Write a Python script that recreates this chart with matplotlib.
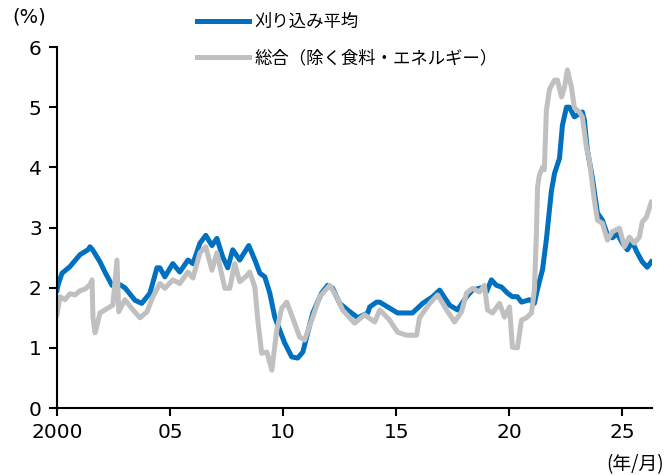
import matplotlib
matplotlib.use("Agg")
import matplotlib.pyplot as plt

plt.rcParams['font.family'] = ['DejaVu Sans', 'Noto Sans CJK JP']
jp = ['Noto Sans CJK JP', 'DejaVu Sans']

# trimmed mean (blue) as (year, %) points
trim_t = [2000.00, 2000.04, 2000.22, 2000.57, 2001.02, 2001.37, 2001.46, 2001.59, 2001.90,
          2002.12, 2002.43, 2002.65, 2002.78, 2003.00, 2003.45, 2003.75, 2004.11, 2004.42,
          2004.55, 2004.77, 2005.12, 2005.43, 2005.79, 2006.01, 2006.32, 2006.58, 2006.85,
          2007.07, 2007.33, 2007.55, 2007.77, 2008.08, 2008.48, 2008.75, 2008.97, 2009.19,
          2009.41, 2009.63, 2009.76, 2010.07, 2010.38, 2010.64, 2010.87, 2011.04, 2011.31,
          2011.70, 2011.97, 2012.19, 2012.50, 2012.85, 2013.30, 2013.74, 2013.83, 2014.13,
          2014.27, 2014.71, 2015.06, 2015.72, 2016.17, 2016.61, 2016.92, 2017.36, 2017.71,
          2018.11, 2018.37, 2018.77, 2018.99, 2019.21, 2019.43, 2019.66, 2019.92, 2020.14,
          2020.36, 2020.54, 2020.89, 2021.11, 2021.20, 2021.33, 2021.47, 2021.64, 2021.86,
          2022.00, 2022.22, 2022.35, 2022.53, 2022.66, 2022.88, 2023.01, 2023.23, 2023.32,
          2023.45, 2023.67, 2023.90, 2024.12, 2024.34, 2024.56, 2024.78, 2025.00, 2025.22,
          2025.44, 2025.66, 2025.88, 2026.10, 2026.28]
trim_v = [1.96, 2.04, 2.24, 2.35, 2.55, 2.63, 2.68, 2.62, 2.43,
          2.26, 2.04, 2.00, 2.05, 2.00, 1.79, 1.74, 1.91, 2.33,
          2.33, 2.18, 2.40, 2.26, 2.46, 2.40, 2.74, 2.87, 2.70,
          2.82, 2.51, 2.33, 2.63, 2.46, 2.70, 2.46, 2.24, 2.18,
          1.91, 1.51, 1.38, 1.08, 0.85, 0.83, 0.93, 1.18, 1.58,
          1.91, 2.04, 1.99, 1.74, 1.63, 1.50, 1.58, 1.68, 1.76,
          1.76, 1.66, 1.58, 1.58, 1.74, 1.85, 1.96, 1.71, 1.63,
          1.85, 1.96, 2.00, 1.93, 2.13, 2.04, 2.01, 1.91, 1.85,
          1.85, 1.76, 1.80, 1.74, 1.90, 2.10, 2.30, 2.80, 3.60,
          3.90, 4.15, 4.70, 5.00, 5.00, 4.84, 4.87, 4.92, 4.79,
          4.29, 3.84, 3.24, 3.12, 2.88, 2.83, 2.90, 2.74, 2.63,
          2.76, 2.58, 2.43, 2.34, 2.43]

# core index excluding food and energy (gray)
core_t = [2000.00, 2000.13, 2000.35, 2000.57, 2000.80, 2001.02, 2001.25, 2001.46, 2001.55,
          2001.59, 2001.68, 2001.72, 2001.90, 2002.25, 2002.47, 2002.65, 2002.73, 2003.00,
          2003.36, 2003.67, 2003.98, 2004.24, 2004.55, 2004.77, 2005.12, 2005.43, 2005.79,
          2006.01, 2006.32, 2006.58, 2006.85, 2007.07, 2007.42, 2007.64, 2007.86, 2008.08,
          2008.39, 2008.52, 2008.75, 2008.88, 2009.05, 2009.28, 2009.50, 2009.72, 2009.94,
          2010.16, 2010.42, 2010.73, 2010.95, 2011.26, 2011.62, 2012.06, 2012.37, 2012.63,
          2013.16, 2013.60, 2014.05, 2014.27, 2014.36, 2014.71, 2015.06, 2015.46, 2015.90,
          2016.03, 2016.48, 2016.83, 2017.23, 2017.58, 2017.89, 2018.11, 2018.37, 2018.68,
          2018.90, 2019.04, 2019.26, 2019.57, 2019.79, 2020.01, 2020.14, 2020.36, 2020.54,
          2020.76, 2020.98, 2021.11, 2021.20, 2021.25, 2021.33, 2021.47, 2021.55, 2021.64,
          2021.78, 2022.00, 2022.13, 2022.31, 2022.44, 2022.57, 2022.75, 2022.88, 2023.10,
          2023.23, 2023.41, 2023.54, 2023.76, 2023.90, 2024.12, 2024.34, 2024.56, 2024.87,
          2025.09, 2025.31, 2025.53, 2025.75, 2025.88, 2026.06, 2026.28]
core_v = [1.55, 1.85, 1.80, 1.90, 1.88, 1.95, 1.98, 2.05, 2.13,
          1.50, 1.25, 1.30, 1.58, 1.66, 1.71, 2.46, 1.60, 1.80,
          1.63, 1.50, 1.60, 1.85, 2.07, 1.99, 2.13, 2.07, 2.26,
          2.16, 2.58, 2.68, 2.29, 2.58, 1.99, 1.99, 2.40, 2.10,
          2.20, 2.26, 2.01, 1.46, 0.91, 0.93, 0.63, 1.30, 1.66,
          1.76, 1.50, 1.18, 1.13, 1.46, 1.85, 2.04, 1.85, 1.63,
          1.41, 1.55, 1.43, 1.63, 1.60, 1.46, 1.26, 1.21, 1.21,
          1.50, 1.74, 1.88, 1.63, 1.43, 1.60, 1.91, 1.99, 1.93,
          2.04, 1.63, 1.58, 1.74, 1.51, 1.68, 1.01, 1.00, 1.46,
          1.50, 1.58, 1.96, 2.90, 3.67, 3.87, 4.00, 3.96, 4.95,
          5.30, 5.45, 5.45, 5.17, 5.33, 5.62, 5.33, 4.99, 4.92,
          4.84, 4.34, 4.12, 3.46, 3.12, 3.07, 2.79, 2.93, 2.99,
          2.68, 2.84, 2.74, 2.84, 3.09, 3.17, 3.42]

tick_years = [2000, 2005, 2010, 2015, 2020, 2025]
tick_names = ['2000', '05', '10', '15', '20', '25']

fig = plt.figure(figsize=(6.66, 4.75), dpi=100)
ax = fig.add_axes([0.0856, 0.141, 0.893, 0.760])

ax.plot(trim_t, trim_v, color='#0070C0', lw=3.6, solid_joinstyle='round', label='刈り込み平均')
ax.plot(core_t, core_v, color='#C0C0C0', lw=3.6, solid_joinstyle='round', label='総合（除く食料・エネルギー）')

ax.set_xlim(2000, 2026.3)
ax.set_ylim(0, 6)
ax.set_xticks(tick_years)
ax.set_xticklabels(tick_names)
ax.set_yticks(range(7))
for s in ['top', 'right']:
    ax.spines[s].set_visible(False)
for s in ['left', 'bottom']:
    ax.spines[s].set_linewidth(1.5)
ax.tick_params(direction='out', length=6, width=1.5, labelsize=14.5, pad=5)

fig.legend(loc='upper left', bbox_to_anchor=(0.272, 1.005), frameon=False,
           prop={'family': jp, 'size': 12.5},
           handlelength=3.0, handletextpad=0.3, labelspacing=1.05)

fig.text(0.018, 0.985, '(%)', fontsize=14, va='top')
fig.text(0.997, 0.0, '(年/月)', fontsize=13.5, ha='right', va='bottom', family=jp)

fig.savefig('out.png')
